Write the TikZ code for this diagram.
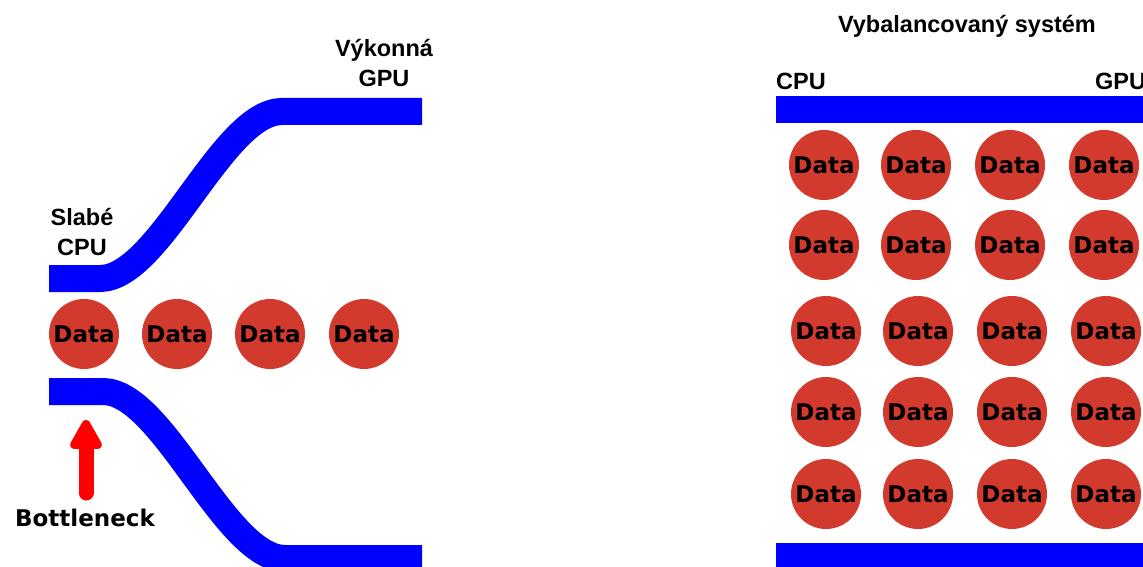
\documentclass[tikz,border=0pt]{standalone}
\usepackage{fontspec}
\setmainfont{Liberation Sans}
\newfontfamily\datafont{DejaVu Sans}
\usetikzlibrary{arrows.meta}
\definecolor{ballred}{RGB}{210,58,46}
\definecolor{pipeblue}{RGB}{0,0,255}
\begin{document}
\begin{tikzpicture}[x=1pt, y=-1pt,
		pipe/.style={line width=27pt, pipeblue},
		databall/.style={circle, fill=ballred, minimum size=70pt, inner sep=0pt,
			font=\datafont\bfseries\fontsize{23}{26}\selectfont},
		lbl/.style={font=\bfseries\fontsize{23.5}{30}\selectfont, inner sep=0pt, align=center},
		neck/.style={line width=15pt, red, line cap=round,
			-{Triangle[length=34pt, width=35pt, round]}}]
	\useasboundingbox (0,0) rectangle (1143,567);
	% weak CPU -> strong GPU
	\draw[pipe] (49,278.5) -- (100,278.5) .. controls (160,278.5) and (222,111.5) .. (282,111.5) -- (422,111.5);
	\draw[pipe] (49,391.5) -- (103,391.5) .. controls (163,391.5) and (225,558.5) .. (285,558.5) -- (422,558.5);
	\node[lbl, anchor=base] (cpuw) at (82,255) {Slabé\\CPU};
	\node[lbl, anchor=base] (gpus) at (384,87) {Výkonná\\GPU};
	\foreach \i/\x in {1/84, 2/177, 3/270, 4/364}
		\node[databall] (d\i) at (\x,334) {Data};
	\coordinate (tail) at (86,493);
	\coordinate (tip) at (86,420);
	\draw[neck] (tail) -- (tip);
	\node[font=\datafont\bfseries\fontsize{23}{26}\selectfont, anchor=base, inner sep=0pt] (bn) at (85,526) {Bottleneck};
	% balanced system
	\node[lbl, anchor=base] (title) at (967,33) {Vybalancovaný systém};
	\node[lbl, anchor=base west] (cpub) at (776,90) {CPU};
	\node[lbl, anchor=base west] (gpub) at (1095,90) {GPU};
	\draw[pipe] (776,109.7) -- (1150,109.7);
	\draw[pipe] (776,556.5) -- (1150,556.5);
	\foreach \r/\y/\dx in {1/165/0, 2/245/0, 3/331/2, 4/412/2, 5/494/2}
		\foreach \c/\x in {1/824, 2/916, 3/1010, 4/1104}
			\node[databall] (b\r\c) at (\x+\dx,\y) {Data};
\end{tikzpicture}
\end{document}
